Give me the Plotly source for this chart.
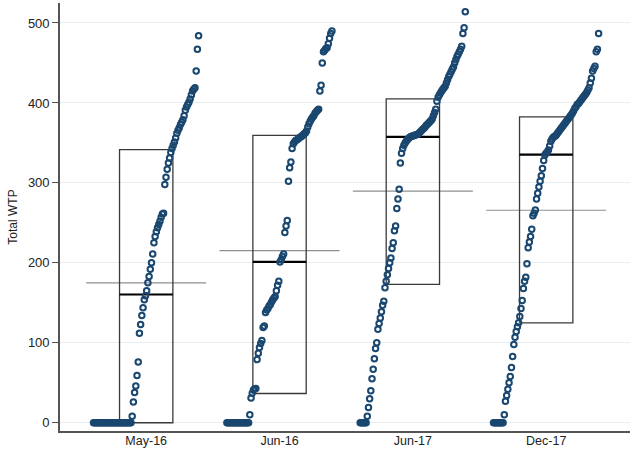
import plotly.graph_objects as go

categories = ["May-16", "Jun-16", "Jun-17", "Dec-17"]

# sorted individual values per survey wave
may16 = [0, 0, 0, 0, 0, 0, 0, 0, 0, 0, 0, 0, 0, 0, 0, 0,
         0, 0, 0, 0, 0, 0, 0, 0, 0, 0, 0, 0, 0, 0, 0, 0,
         8, 26, 38, 46, 59, 76, 112, 123, 134, 144,
         154, 159, 165, 175, 183, 192, 200, 211, 225, 233,
         239, 244, 248, 252, 257, 261, 262, 298, 307, 317,
         325, 331, 338, 343, 347, 351, 356, 362, 366, 369,
         373, 376, 379, 384, 391, 395, 398, 401, 405, 410,
         415, 417, 419, 440, 467, 484]

jun16 = [0, 0, 0, 0, 0, 0, 0, 0, 0, 0, 0, 0, 0, 0, 0, 0, 0, 0, 0,
         10, 31, 37, 41, 42.5, 43, 79, 87, 94, 99, 103, 119, 121,
         138, 141, 143, 146, 148, 151, 154, 156, 158, 165, 172, 177,
         201, 204, 208, 211, 238, 246, 253, 302, 319, 326, 343, 349,
         351, 353, 354, 355, 356.5, 357.5, 358.5, 360, 361.5, 362.5,
         365, 370, 374, 377, 380, 382, 384, 387, 389, 391, 392,
         415, 422, 450, 464, 466, 468, 469, 474, 481, 487, 490]

jun17 = [0, 0, 0, 0, 0, 0,
         8, 19, 30, 40, 55, 67, 80, 93, 100, 117, 124, 131, 139, 147,
         152, 169, 177, 185, 193, 200, 206, 218, 225, 240, 246, 268,
         280, 292, 325, 337, 343, 347, 350, 352, 354, 355.5, 357,
         358, 358.5, 359, 359.5, 360, 360.5, 361, 362.5, 364, 365.5,
         367, 368.5, 370, 372, 373.5, 375, 376.5, 378, 380, 384, 388,
         392, 402, 407, 410, 412.5, 415, 417, 419, 421, 425, 429, 433,
         436, 439, 442, 445, 450, 454, 458, 461, 464, 467, 471, 487,
         494, 514]

dec17 = [0, 0, 0, 0, 0, 0, 0, 0, 0,
         10, 27, 34, 42, 50, 58, 69, 83, 98, 107, 114, 120, 125, 133,
         143, 153, 168, 177, 182, 199, 219, 226, 233, 242, 259, 262,
         266, 280, 287, 295, 302, 309, 318, 328, 335, 337, 338.5, 341,
         346, 352, 355, 357, 358, 359, 361, 363, 365, 367, 369, 371,
         373, 375, 377, 379, 381, 383, 385, 387, 390, 393, 395, 398,
         399, 401, 403, 405, 407, 409, 411, 413, 416, 419, 425, 431,
         440, 443, 446, 464, 467, 487]

# box statistics drawn on the chart
q1 = [0, 36.6, 173, 125]
median = [160.4, 201.2, 357.5, 335.4]
q3 = [341.6, 359.5, 405, 382.5]
mean = [175, 215.4, 289.6, 265.8]

groups = [may16, jun16, jun17, dec17]
positions = [1, 2, 3, 4]

BOX_HALF = 0.2
MEAN_HALF = 0.45
SPREAD_LO, SPREAD_HI = -0.395, 0.393
NAVY = "#1a476f"

fig = go.Figure()

bx, by, mx, my, ax, ay = [], [], [], [], [], []
for p, a, m, b, mu in zip(positions, q1, median, q3, mean):
    bx += [p - BOX_HALF, p + BOX_HALF, p + BOX_HALF, p - BOX_HALF, p - BOX_HALF, None]
    by += [a, a, b, b, a, None]
    mx += [p - BOX_HALF, p + BOX_HALF, None]
    my += [m, m, None]
    ax += [p - MEAN_HALF, p + MEAN_HALF, None]
    ay += [mu, mu, None]

fig.add_trace(go.Scatter(x=ax, y=ay, mode="lines",
                         line=dict(color="#8f8f8f", width=1.2),
                         hoverinfo="skip", showlegend=False))
fig.add_trace(go.Scatter(x=bx, y=by, mode="lines",
                         line=dict(color="#3a3a3a", width=1.3),
                         hoverinfo="skip", showlegend=False))
fig.add_trace(go.Scatter(x=mx, y=my, mode="lines",
                         line=dict(color="#000000", width=2.2),
                         hoverinfo="skip", showlegend=False))

for p, vals, name in zip(positions, groups, categories):
    n = len(vals)
    xs = [p + SPREAD_LO + (SPREAD_HI - SPREAD_LO) * i / (n - 1) for i in range(n)]
    fig.add_trace(go.Scatter(
        x=xs, y=vals, mode="markers", name=name, showlegend=False,
        marker=dict(symbol="circle-open", size=5.5, color=NAVY,
                    line=dict(width=2, color=NAVY)),
    ))

font_family = "Liberation Sans, Arial, Helvetica, sans-serif"

fig.update_layout(
    width=630, height=449,
    margin=dict(l=60, r=0, t=3, b=18, pad=0),
    paper_bgcolor="white", plot_bgcolor="white",
    font=dict(family=font_family, size=13, color="#222222"),
    showlegend=False,
    xaxis=dict(
        range=[0.3535, 4.6285], tickvals=positions, ticktext=categories,
        showgrid=False, zeroline=False, showline=True,
        linecolor="#555555", linewidth=1.6, ticks="",
        ticklabelstandoff=-3,
        tickfont=dict(size=12.5, color="#222222"), automargin=False,
    ),
    yaxis=dict(
        range=[-10.3, 525], tickvals=[0, 100, 200, 300, 400, 500],
        showgrid=True, gridcolor="#e7eef2", gridwidth=1,
        zeroline=False, showline=True, linecolor="#555555", linewidth=1.6,
        ticks="outside", ticklen=6, tickcolor="#555555", tickwidth=1.2,
        tickfont=dict(size=13, color="#222222"),
        title=dict(text="Total WTP", font=dict(size=12, color="#222222"), standoff=8),
        automargin=False,
    ),
)

fig.write_html(
    "out.html",
    config={"displayModeBar": False},
    post_script="document.body.style.margin='0';document.body.style.overflow='hidden';",
)
